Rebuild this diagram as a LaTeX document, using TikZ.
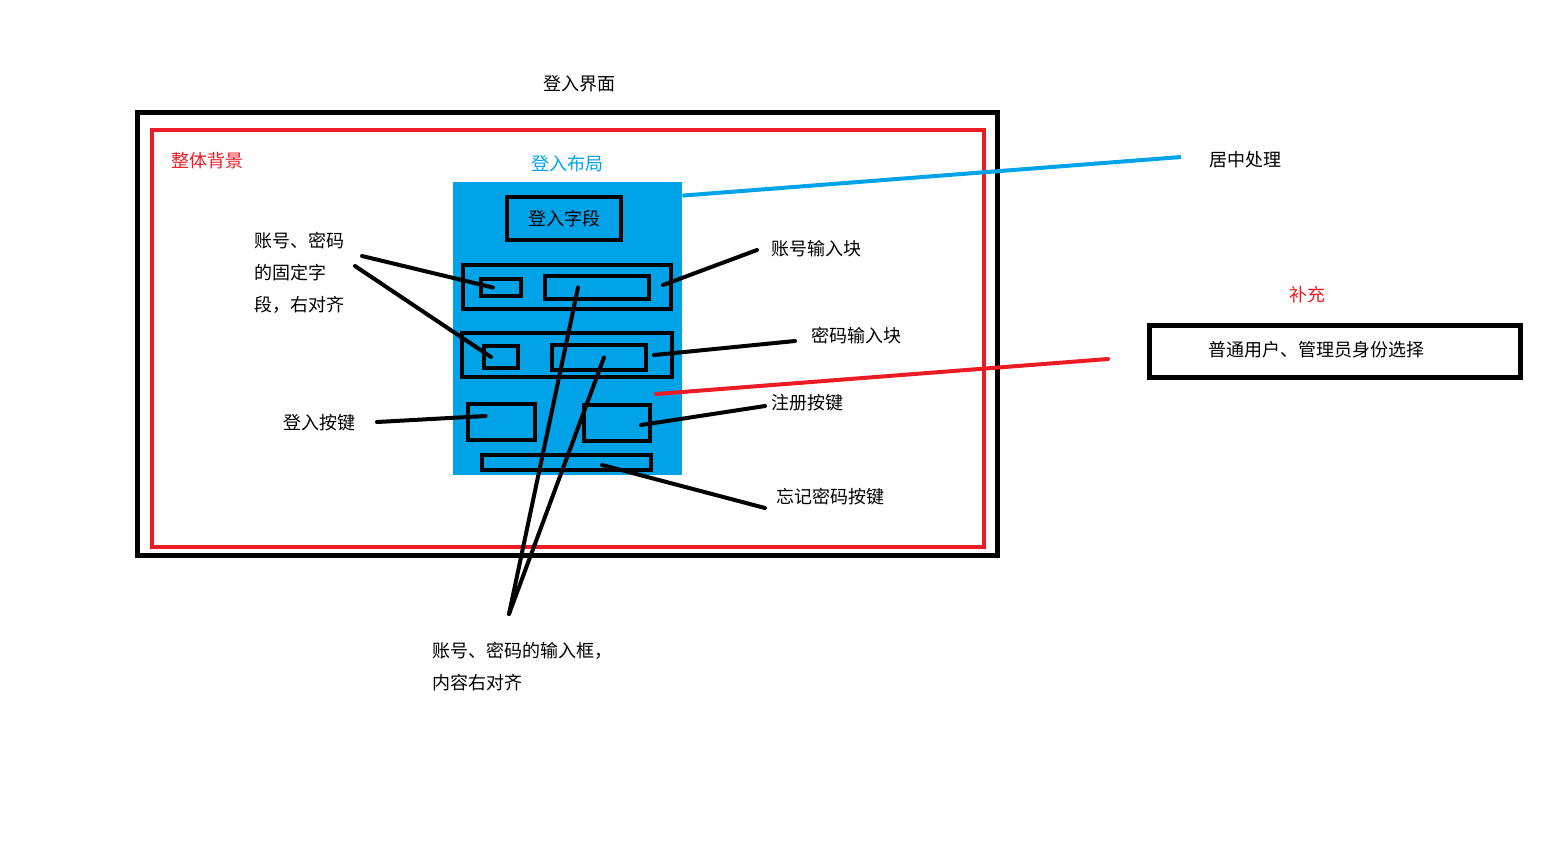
\documentclass[tikz,border=0pt]{standalone}
\usepackage{fontspec}
\setmainfont{Noto Sans CJK SC}
\usepackage{xcolor}
\definecolor{paintred}{HTML}{ED1C24}
\definecolor{paintblue}{HTML}{00A2E8}

\begin{document}
\begin{tikzpicture}[x=0.5pt,y=-0.5pt,
    font=\fontsize{9}{16}\selectfont,
    frame/.style 2 args={draw,line width=2pt,inner sep=0pt,minimum width=#1*0.5pt,minimum height=#2*0.5pt},
    link/.style={line width=2pt,line cap=round},
    note/.style={inner sep=0pt,align=left}]
    \useasboundingbox (0,0) rectangle (1566,853);

    % Outer window and background
    \draw[line width=2.5pt] (137.5,112.5) rectangle (997.5,555.5);
    \draw[paintred,line width=2pt] (152,130) rectangle (984,547);
    \node[note] (title) at (579,84) {登入界面};
    \node[note,paintred] (bgnote) at (207,161) {整体背景};

    % Layout panel
    \node[note,paintblue] (layoutnote) at (567,164) {登入布局};
    \node[fill=paintblue,inner sep=0pt,minimum width=229*0.5pt,minimum height=293*0.5pt] (panel) at (567.5,328.5) {};
    \node[frame={114}{43}] (field) at (564,218.5) {登入字段};
    \node[frame={208}{44}] (row1) at (567,287) {};
    \node[frame={40}{17}] (accsmall) at (501,287.5) {};
    \node[frame={104}{23}] (accbig) at (597,287.5) {};
    \node[frame={210}{44}] (row2) at (567,355) {};
    \node[frame={34}{22}] (pwdsmall) at (501,357) {};
    \node[frame={94}{25}] (pwdbig) at (599,357.5) {};
    \node[frame={67}{36}] (loginbtn) at (501.5,422) {};
    \node[frame={66}{36}] (regbtn) at (617,423) {};
    \node[frame={169}{15}] (forgot) at (566.5,462.5) {};

    % Notes
    \node[note,anchor=west] (fixnote) at (254,273) {账号、密码\\的固定字\\段，右对齐};
    \node[note] (loginnote) at (319,423) {登入按键};
    \node[note,anchor=west] (inputnote) at (432,667) {账号、密码的输入框，\\内容右对齐};
    \node[note] (accnote) at (816,249) {账号输入块};
    \node[note] (pwdnote) at (856,336) {密码输入块};
    \node[note] (regnote) at (807,403) {注册按键};
    \node[note] (forgotnote) at (830,497) {忘记密码按键};
    \node[note] (centernote) at (1245,160) {居中处理};
    \node[note,paintred] (morenote) at (1307,295) {补充};
    \node[draw,line width=2.5pt,inner sep=0pt,minimum width=371*0.5pt,minimum height=52*0.5pt] (role) at (1335,351.5) {};
    \node[note] (roletext) at (1316,350) {普通用户、管理员身份选择};

    % Free ends of the connectors
    \coordinate (fixA) at (362,256);
    \coordinate (fixB) at (355,266);
    \coordinate (loginA) at (377,422);
    \coordinate (inputA) at (509,614);
    \coordinate (accA) at (757,250);
    \coordinate (pwdA) at (795,341);
    \coordinate (regA) at (765,406);
    \coordinate (forgotA) at (765,508);
    \coordinate (centerA) at (1181,157);
    \coordinate (roleA) at (1108,359);
    \coordinate (roleB) at (656,394);

    % Connectors
    \draw[link] (fixA) -- ([xshift=-4pt]accsmall.center);
    \draw[link] (fixB) -- ([xshift=-5pt]pwdsmall.center);
    \draw[link] (loginA) -- ([xshift=-8pt,yshift=3pt]loginbtn.center);
    \draw[link] (inputA) -- ([xshift=-9.5pt]accbig.center);
    \draw[link] (inputA) -- ([xshift=2.5pt]pwdbig.center);
    \draw[link] (accA) -- ([xshift=-5pt,yshift=1pt]row1.east);
    \draw[link] (pwdA) -- ([xshift=-10pt]row2.east);
    \draw[link] (regA) -- ([xshift=12pt,yshift=-1pt]regbtn.center);
    \draw[link] (forgotA) -- ([xshift=17.75pt,yshift=-1.25pt]forgot.center);
    \draw[paintblue,line width=2pt] ([yshift=-7pt]panel.north east) -- (centerA);
    \draw[paintred,line width=2pt,line cap=round] (roleB) -- (roleA);
\end{tikzpicture}
\end{document}
